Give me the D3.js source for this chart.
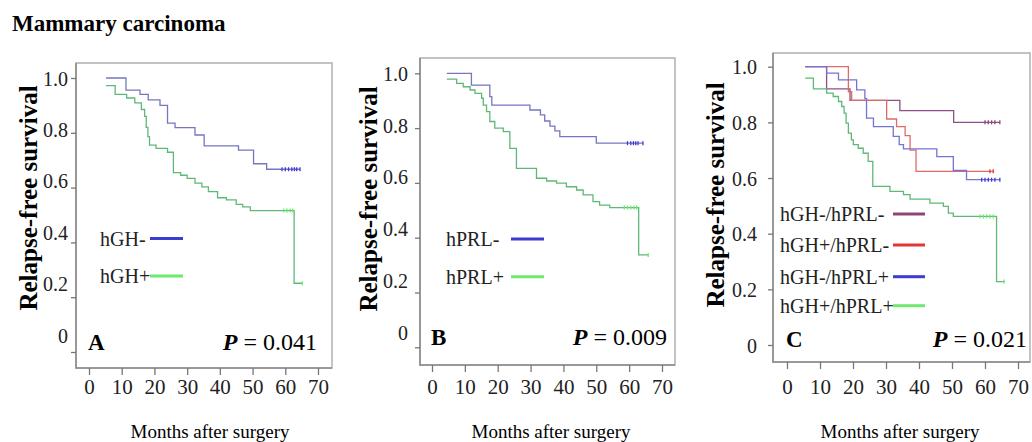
<!DOCTYPE html>
<html>
<head>
<meta charset="utf-8">
<script src="https://cdn.jsdelivr.net/npm/d3@7"></script>
<style>
  body { margin: 0; background: #fff; }
  svg text { font-family: 'Liberation Serif', 'Times New Roman', serif !important; }
</style>
</head>
<body>
<svg id="chart" width="1032" height="442"></svg>
<script>
const months = [0, 10, 20, 30, 40, 50, 60, 70];
const survivalTicks = [0, 0.2, 0.4, 0.6, 0.8, 1.0];
const survivalTickLabels = ['0', '0.2', '0.4', '0.6', '0.8', '1.0'];

// [month, survival after the step]
const hghNeg = [[5.2, 1.0], [11.3, 0.956], [15.6, 0.94], [18.1, 0.92], [21.7, 0.90], [24, 0.835],
  [26.3, 0.819], [32.4, 0.792], [35.2, 0.752], [45.7, 0.737], [50.3, 0.687], [54.3, 0.667], [64.5, 0.667]];
const hghNegCensor = [59, 60, 61, 62, 62.8, 63.5, 64.5];
const hghPos = [[5.2, 0.972], [8, 0.94], [11.5, 0.927], [14, 0.909], [16, 0.885], [17, 0.86], [17.5, 0.82],
  [18, 0.786], [18.5, 0.755], [20.5, 0.743], [24, 0.729], [25.8, 0.655], [28, 0.645], [30, 0.634],
  [32.4, 0.616], [34.5, 0.603], [36.5, 0.585], [39.3, 0.563], [42, 0.555], [45, 0.539], [47, 0.530],
  [49.3, 0.516], [62.7, 0.251], [65.2, 0.251]];
const hghPosCensor = [59.5, 60.5, 61.5, 62.3, 65.2];

const hprlNeg = [[4.5, 1.0], [12, 0.957], [17.6, 0.915], [18.2, 0.884], [29.8, 0.866], [33, 0.848],
  [34.3, 0.826], [35.9, 0.807], [37.4, 0.79], [38.9, 0.769], [50, 0.745], [64.2, 0.745]];
const hprlNegCensor = [59.5, 60.5, 61.3, 62, 62.7, 64.2];
const hprlPos = [[4.5, 0.979], [7.5, 0.963], [9.5, 0.951], [11.6, 0.939], [13.1, 0.927], [15.1, 0.909],
  [15.6, 0.884], [16.6, 0.86], [17.6, 0.824], [19.1, 0.80], [21.7, 0.787], [23.7, 0.726], [25.7, 0.653],
  [31.8, 0.617], [34.9, 0.607], [37.9, 0.599], [40.9, 0.586], [44, 0.574], [46, 0.556], [49, 0.532],
  [51, 0.519], [54.1, 0.51], [62.9, 0.337], [65.8, 0.337]];
const hprlPosCensor = [58.5, 59.5, 60.5, 61.5, 62.3, 65.8];

const negNeg = [[5.5, 1.0], [12, 0.92], [19.1, 0.879], [34.2, 0.842], [50.5, 0.80], [64.5, 0.80]];
const negNegCensor = [60, 61, 62, 63, 64.5];
const posNeg = [[5.5, 1.0], [18.6, 0.91], [19.6, 0.879], [30.2, 0.812], [33.2, 0.785], [35.8, 0.752],
  [37.3, 0.70], [39.1, 0.624], [62.5, 0.624]];
const posNegCensor = [61.5, 62.5];
const negPos = [[5.5, 1.0], [12, 0.977], [15.6, 0.953], [21.1, 0.917], [23.6, 0.885], [24.1, 0.815],
  [26.2, 0.785], [32.2, 0.75], [34, 0.72], [35.3, 0.705], [45.4, 0.677], [50.4, 0.627], [54.4, 0.594], [64.5, 0.594]];
const negPosCensor = [59, 60, 61, 62, 63, 64.5];
const posPos = [[5.5, 0.959], [8, 0.92], [12, 0.905], [14, 0.893], [15.6, 0.875], [16.6, 0.857], [17.3, 0.833],
  [17.9, 0.797], [18.6, 0.761], [19.5, 0.737], [20.1, 0.72], [21.6, 0.707], [23.1, 0.689], [24.6, 0.66],
  [26, 0.57], [31.2, 0.552], [35.3, 0.54], [37.3, 0.524], [43.3, 0.51], [47.4, 0.498], [48.9, 0.474],
  [50.4, 0.462], [63.5, 0.228], [65.8, 0.228]];
const posPosCensor = [58.5, 59.5, 60.5, 61.5, 62.5, 65.8];

const panels = [
  {
    letter: 'A', p: '0.041',
    frame: [76, 63, 332, 368], xRange: [89, 318], yRange: [352, 78], labelRange: [335, 78], labelRight: 68,
    titleX: 28, titleY: 198, xTitle: 210, letterY: 350, pRight: 317,
    legend: { x: 100, lineX: [150, 183], rows: [238.5, 276] },
    series: [
      { name: 'hGH-', data: hghNeg, censor: hghNegCensor, color: '#7676c0', key: '#3c3cd2' },
      { name: 'hGH+', data: hghPos, censor: hghPosCensor, color: '#5fb878', key: '#6ee86e' }
    ]
  },
  {
    letter: 'B', p: '0.009',
    frame: [420, 58, 675, 365], xRange: [432, 662], yRange: [347.3, 73.3], labelRange: [332, 73.3], labelRight: 408,
    titleX: 368.5, titleY: 199, xTitle: 551, letterY: 345, pRight: 667,
    legend: { x: 446, lineX: [511, 544], rows: [239, 276.7] },
    series: [
      { name: 'hPRL-', data: hprlNeg, censor: hprlNegCensor, color: '#7676c0', key: '#3c3cd2' },
      { name: 'hPRL+', data: hprlPos, censor: hprlPosCensor, color: '#5fb878', key: '#6ee86e' }
    ]
  },
  {
    letter: 'C', p: '0.021',
    frame: [773, 53, 1030, 362], xRange: [787, 1018], yRange: [345, 66.7], labelRange: [345, 66.7], labelRight: 757,
    titleX: 715, titleY: 195, xTitle: 900, letterY: 347, pRight: 1027,
    legend: { x: 780, lineX: [893, 925], rows: [214, 245, 276.7, 305.7] },
    series: [
      { name: 'hGH-/hPRL-', data: negNeg, censor: negNegCensor, color: '#8e4f86', key: '#8c4676' },
      { name: 'hGH+/hPRL-', data: posNeg, censor: posNegCensor, color: '#e06a6a', key: '#e53535' },
      { name: 'hGH-/hPRL+', data: negPos, censor: negPosCensor, color: '#7474d4', key: '#3c3cd2' },
      { name: 'hGH+/hPRL+', data: posPos, censor: posPosCensor, color: '#5fb878', key: '#6ee86e' }
    ]
  }
];

const svg = d3.select('#chart');

svg.append('text')
    .attr('x', 12)
    .attr('y', 31)
    .attr('font-size', 23)
    .attr('font-weight', 'bold')
    .text('Mammary carcinoma');

function survivalAt(data, t) {
  let s = data[0][1];
  for (let i = 0; i < data.length; i++) {
    if (data[i][0] <= t) s = data[i][1];
  }
  return s;
}

function drawPanel(cfg) {
  const [fx0, fy0, fx1, fy1] = cfg.frame;
  const x = d3.scaleLinear().domain([0, 70]).range(cfg.xRange);
  const y = d3.scaleLinear().domain([0, 1]).range(cfg.yRange);
  const yLabel = d3.scaleLinear().domain([0, 1]).range(cfg.labelRange);

  const g = svg.append('g');

  g.append('rect')
      .attr('x', fx0)
      .attr('y', fy0)
      .attr('width', fx1 - fx0)
      .attr('height', fy1 - fy0)
      .attr('fill', 'none')
      .attr('stroke', '#b0b0b0')
      .attr('stroke-width', 1.5);

  g.append('path')
      .attr('d', `M${fx0},${fy0}V${fy1}H${fx1}`)
      .attr('fill', 'none')
      .attr('stroke', '#8a8a8a')
      .attr('stroke-width', 1.5);

  const xAxis = g.append('g')
      .attr('transform', `translate(0,${fy1})`)
      .call(d3.axisBottom(x).tickValues(months).tickSize(7).tickFormat(d3.format('d')));
  xAxis.select('.domain').remove();
  xAxis.selectAll('line').attr('stroke', '#777').attr('stroke-width', 1.3);
  xAxis.selectAll('text')
      .attr('y', 394 - fy1)
      .attr('dy', null)
      .attr('font-size', 21)
      .attr('fill', '#222');

  const yAxis = g.append('g')
      .attr('transform', `translate(${fx0},0)`)
      .call(d3.axisLeft(y).tickValues(survivalTicks).tickSize(5)
        .tickFormat((d, i) => survivalTickLabels[i]));
  yAxis.select('.domain').remove();
  yAxis.selectAll('line').attr('stroke', '#777').attr('stroke-width', 1.3);
  yAxis.selectAll('text')
      .attr('x', cfg.labelRight - fx0)
      .attr('y', d => yLabel(d) - y(d))
      .attr('dy', '0.35em')
      .attr('font-size', 20)
      .attr('fill', '#222');

  const line = d3.line()
      .x(d => x(d[0]))
      .y(d => y(d[1]))
      .curve(d3.curveStepAfter);

  cfg.series.forEach(s => {
    g.append('path')
        .datum(s.data)
        .attr('d', line)
        .attr('fill', 'none')
        .attr('stroke', s.color)
        .attr('stroke-width', 1.3);

    g.selectAll(null)
        .data(s.censor)
        .enter()
        .append('line')
        .attr('x1', d => x(d))
        .attr('x2', d => x(d))
        .attr('y1', d => y(survivalAt(s.data, d)) - 2)
        .attr('y2', d => y(survivalAt(s.data, d)) + 2)
        .attr('stroke', s.key)
        .attr('stroke-width', 1.3);
  });

  cfg.series.forEach((s, i) => {
    const ry = cfg.legend.rows[i];
    g.append('text')
        .attr('x', cfg.legend.x)
        .attr('y', ry)
        .attr('dy', '0.35em')
        .attr('font-size', 20)
        .attr('fill', '#222')
        .text(s.name);
    g.append('line')
        .attr('x1', cfg.legend.lineX[0])
        .attr('x2', cfg.legend.lineX[1])
        .attr('y1', ry)
        .attr('y2', ry)
        .attr('stroke', s.key)
        .attr('stroke-width', 3);
  });

  g.append('text')
      .attr('x', x(0) - 1)
      .attr('y', cfg.letterY)
      .attr('font-size', 23)
      .attr('font-weight', 'bold')
      .text(cfg.letter);

  const pText = g.append('text')
      .attr('x', cfg.pRight)
      .attr('y', cfg.letterY)
      .attr('font-size', 24)
      .attr('text-anchor', 'end');
  pText.append('tspan')
      .attr('font-weight', 'bold')
      .attr('font-style', 'italic')
      .text('P');
  pText.append('tspan')
      .text(' = ' + cfg.p);

  g.append('text')
      .attr('transform', `translate(${cfg.titleX},${cfg.titleY}) rotate(-90)`)
      .attr('text-anchor', 'middle')
      .attr('dy', '0.35em')
      .attr('font-size', 25)
      .attr('font-weight', 'bold')
      .text('Relapse-free survival');

  g.append('text')
      .attr('x', cfg.xTitle)
      .attr('y', 438)
      .attr('text-anchor', 'middle')
      .attr('font-size', 19)
      .text('Months after surgery');
}

panels.forEach(drawPanel);
</script>
</body>
</html>
